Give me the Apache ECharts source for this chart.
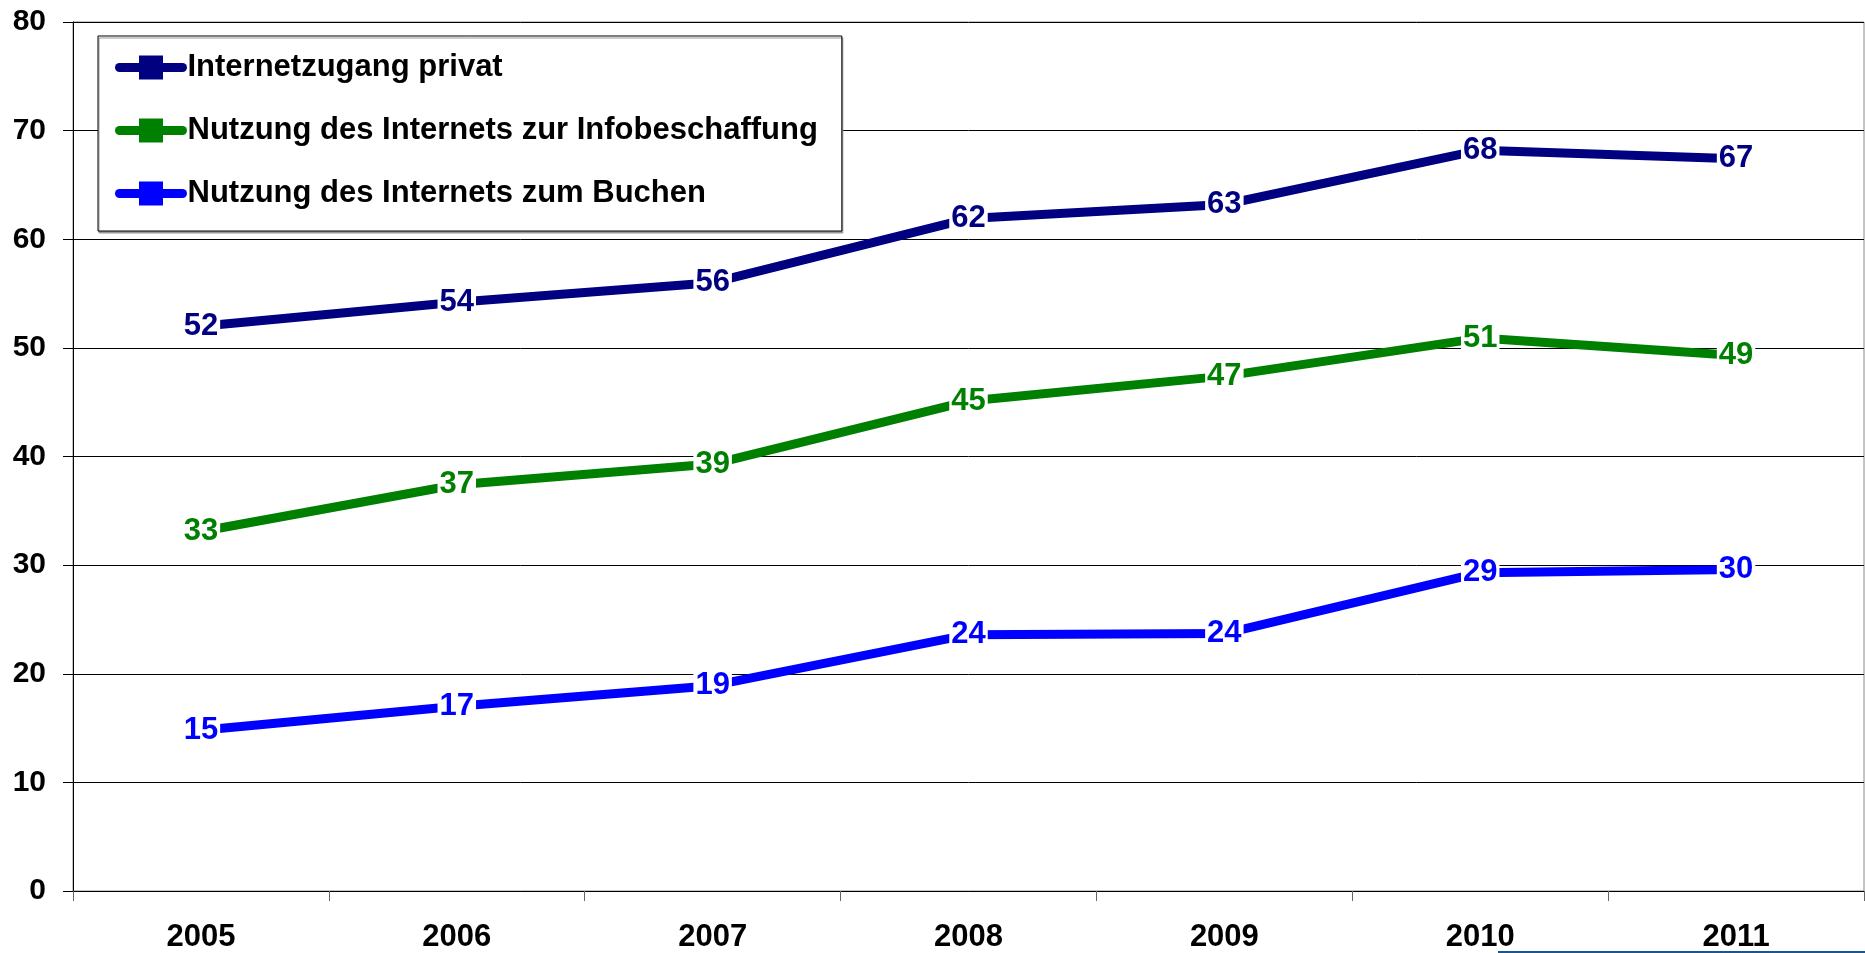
<!DOCTYPE html>
<html lang="de">
<head>
  <meta charset="utf-8" />
  <title>Internetnutzung 2005-2011</title>
  <script src="https://cdn.jsdelivr.net/npm/echarts@6/dist/echarts.min.js"></script>
  <style>
    html, body { margin: 0; padding: 0; background: #fff; }
    #chart { width: 1865px; height: 953px; }
  </style>
</head>
<body>
  <div id="chart"></div>
  <script>
    // Kategorien (Jahre)
    const years = ['2005', '2006', '2007', '2008', '2009', '2010', '2011'];

    // Werte der drei Reihen (Beschriftung gerundet)
    const internetzugangPrivat = [52.0, 54.2, 56.0, 61.9, 63.2, 68.2, 67.4];
    const nutzungInfobeschaffung = [33.1, 37.4, 39.3, 45.1, 47.4, 50.9, 49.3];
    const nutzungBuchen = [14.8, 17.0, 18.9, 23.6, 23.7, 29.3, 29.6];

    const seriesNames = [
      'Internetzugang privat',
      'Nutzung des Internets zur Infobeschaffung',
      'Nutzung des Internets zum Buchen',
    ];
    const seriesColors = ['#000080', '#008000', '#0000ff'];

    const fontFamily = '"Liberation Sans", Arial, sans-serif';

    const chartDom = document.getElementById('chart');
    const chartInstance = echarts.init(chartDom);

    const makeSeries = (name, data, color) => ({
      name: name,
      type: 'line',
      data: data,
      symbol: 'rect',
      symbolSize: 10,
      lineStyle: { width: 9, color: color },
      itemStyle: { color: color },
      label: {
        show: true,
        position: 'inside',
        formatter: (p) => String(Math.round(p.value)),
        color: color,
        fontSize: 31,
        fontWeight: 'bold',
        fontFamily: fontFamily,
        backgroundColor: '#fff',
        padding: [0, 2],
      },
      emphasis: { disabled: true },
    });

    const baseOptions = {
      animation: false,
      textStyle: { fontFamily: fontFamily },
      grid: {
        left: 73,
        right: 1,
        top: 22,
        bottom: 62,
        show: true,
        borderColor: '#888',
        borderWidth: 1,
      },
      legend: {
        data: seriesNames,
        orient: 'vertical',
        left: 98,
        top: 36,
        padding: [16, 24, 22, 17],
        itemWidth: 63,
        itemHeight: 30,
        itemGap: 32,
        backgroundColor: '#fff',
        borderColor: '#000',
        borderWidth: 1,
        shadowColor: '#999',
        shadowOffsetX: 1,
        shadowOffsetY: 2,
        lineStyle: { width: 9, cap: 'round' },
        textStyle: {
          fontSize: 31,
          fontWeight: 'bold',
          color: '#000',
          fontFamily: fontFamily,
        },
      },
      xAxis: {
        type: 'category',
        data: years,
        boundaryGap: true,
        axisLine: { lineStyle: { color: '#000', width: 1 } },
        axisTick: { show: true, length: 10, lineStyle: { color: '#666' } },
        axisLabel: {
          margin: 31,
          fontSize: 31,
          fontWeight: 'bold',
          color: '#000',
          fontFamily: fontFamily,
        },
      },
      yAxis: {
        type: 'value',
        min: 0,
        max: 80,
        interval: 10,
        axisLine: { show: true, lineStyle: { color: '#000', width: 1 } },
        axisTick: { show: true, length: 10, lineStyle: { color: '#000' } },
        splitLine: { lineStyle: { color: '#000', width: 1 } },
        axisLabel: {
          margin: 27,
          fontSize: 30,
          fontWeight: 'bold',
          color: '#000',
          fontFamily: fontFamily,
        },
      },
      // blaue Linie unten rechts (Folienrand)
      graphic: [
        {
          type: 'rect',
          left: 1498,
          top: 951,
          shape: { width: 367, height: 2 },
          style: { fill: '#1a5590' },
        },
      ],
      series: [
        makeSeries(seriesNames[0], internetzugangPrivat, seriesColors[0]),
        makeSeries(seriesNames[1], nutzungInfobeschaffung, seriesColors[1]),
        makeSeries(seriesNames[2], nutzungBuchen, seriesColors[2]),
      ],
    };

    chartInstance.setOption(baseOptions);
  </script>
</body>
</html>
